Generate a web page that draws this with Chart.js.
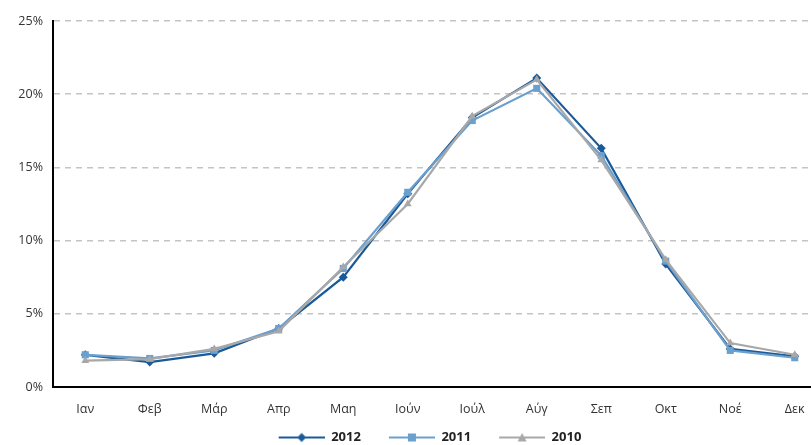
<!DOCTYPE html>
<html lang="el">
<head>
<meta charset="UTF-8">
<title>Μηνιαία κατανομή</title>
<script src="https://cdn.jsdelivr.net/npm/chart.js"></script>
<style>
  html, body { margin: 0; padding: 0; background: #fff; overflow: hidden; }
  #wrap { width: 832px; height: 445px; }
</style>
</head>
<body>
<div id="wrap"><canvas id="myChart" width="832" height="445"></canvas></div>
<script>
const months = ['Ιαν', 'Φεβ', 'Μάρ', 'Απρ', 'Μαη', 'Ιούν', 'Ιούλ', 'Αύγ', 'Σεπ', 'Οκτ', 'Νοέ', 'Δεκ'];
const y2012 = [2.2, 1.7, 2.3, 4.0, 7.5, 13.2, 18.4, 21.1, 16.3, 8.4, 2.6, 2.1];
const y2011 = [2.2, 1.95, 2.5, 4.0, 8.1, 13.3, 18.2, 20.4, 15.8, 8.6, 2.5, 2.0];
const y2010 = [1.8, 1.9, 2.6, 3.8, 8.2, 12.5, 18.5, 21.0, 15.5, 8.7, 3.0, 2.2];
const yTicks = [0, 5, 10, 15, 20, 25];

// legend icon: gap, then a short line with the marker in the middle
const ICON_W = 74, GAP = 28;
function legendIcon(color, style) {
    const c = document.createElement('canvas');
    c.width = ICON_W; c.height = 12;
    const g = c.getContext('2d');
    const mid = GAP + (ICON_W - GAP) / 2;
    g.strokeStyle = color; g.fillStyle = color; g.lineWidth = 2.2;
    g.beginPath(); g.moveTo(GAP, 6); g.lineTo(ICON_W, 6); g.stroke();
    g.beginPath();
    if (style === 'rectRot') {
        g.moveTo(mid, 1.5); g.lineTo(mid + 4.5, 6); g.lineTo(mid, 10.5); g.lineTo(mid - 4.5, 6);
    } else if (style === 'rect') {
        g.rect(mid - 4, 2, 8, 8);
    } else {
        g.moveTo(mid, 1.5); g.lineTo(mid + 4.5, 10); g.lineTo(mid - 4.5, 10);
    }
    g.closePath(); g.fill();
    return c;
}

const series = [
    { label: '2012', data: y2012, color: '#1a5a98', style: 'rectRot', radius: 4.5 },
    { label: '2011', data: y2011, color: '#6b9fcd', style: 'rect', radius: 5 },
    { label: '2010', data: y2010, color: '#a8a8a8', style: 'triangle', radius: 4.5 }
];

const ctx = document.getElementById('myChart').getContext('2d');
new Chart(ctx, {
    type: 'line',
    data: {
        labels: months,
        datasets: series.map(s => ({
            label: s.label,
            data: s.data,
            borderColor: s.color,
            backgroundColor: s.color,
            borderWidth: 2.2,
            pointStyle: s.style,
            pointRadius: s.radius,
            pointBorderWidth: 0,
            tension: 0
        })).reverse()
    },
    options: {
        responsive: false,
        animation: false,
        layout: { padding: { top: 21, right: 0, left: 0, bottom: -9 } },
        plugins: {
            tooltip: { enabled: false },
            legend: {
                position: 'bottom',
                reverse: true,
                labels: {
                    usePointStyle: true,
                    pointStyleWidth: ICON_W,
                    boxHeight: 12,
                    padding: 0,
                    color: '#222',
                    font: { family: 'Open Sans', size: 13, weight: 'bold' },
                    generateLabels: chart => chart.data.datasets.map((d, i) => ({
                        text: d.label,
                        pointStyle: legendIcon(d.borderColor, d.pointStyle),
                        datasetIndex: i,
                        fontColor: '#222',
                        lineWidth: 0
                    }))
                }
            }
        },
        scales: {
            x: {
                offset: true,
                grid: { display: false, drawTicks: false },
                border: { color: '#000', width: 2 },
                ticks: {
                    color: '#333',
                    padding: 14.5,
                    font: { family: 'Open Sans', size: 12.5 }
                }
            },
            y: {
                min: 0,
                max: 25,
                afterBuildTicks: axis => { axis.ticks = yTicks.map(v => ({ value: v })); },
                afterFit: axis => { axis.width = 53; },
                grid: {
                    color: ctx => ctx.tick.value === 0 ? 'rgba(0,0,0,0)' : '#c4c4c4',
                    lineWidth: 1.5,
                    drawTicks: false
                },
                border: { color: '#000', width: 2, dash: [6, 5] },
                ticks: {
                    color: '#333',
                    padding: 10,
                    font: { family: 'Open Sans', size: 12.5 },
                    callback: v => v + '%'
                }
            }
        }
    }
});
</script>
</body>
</html>
